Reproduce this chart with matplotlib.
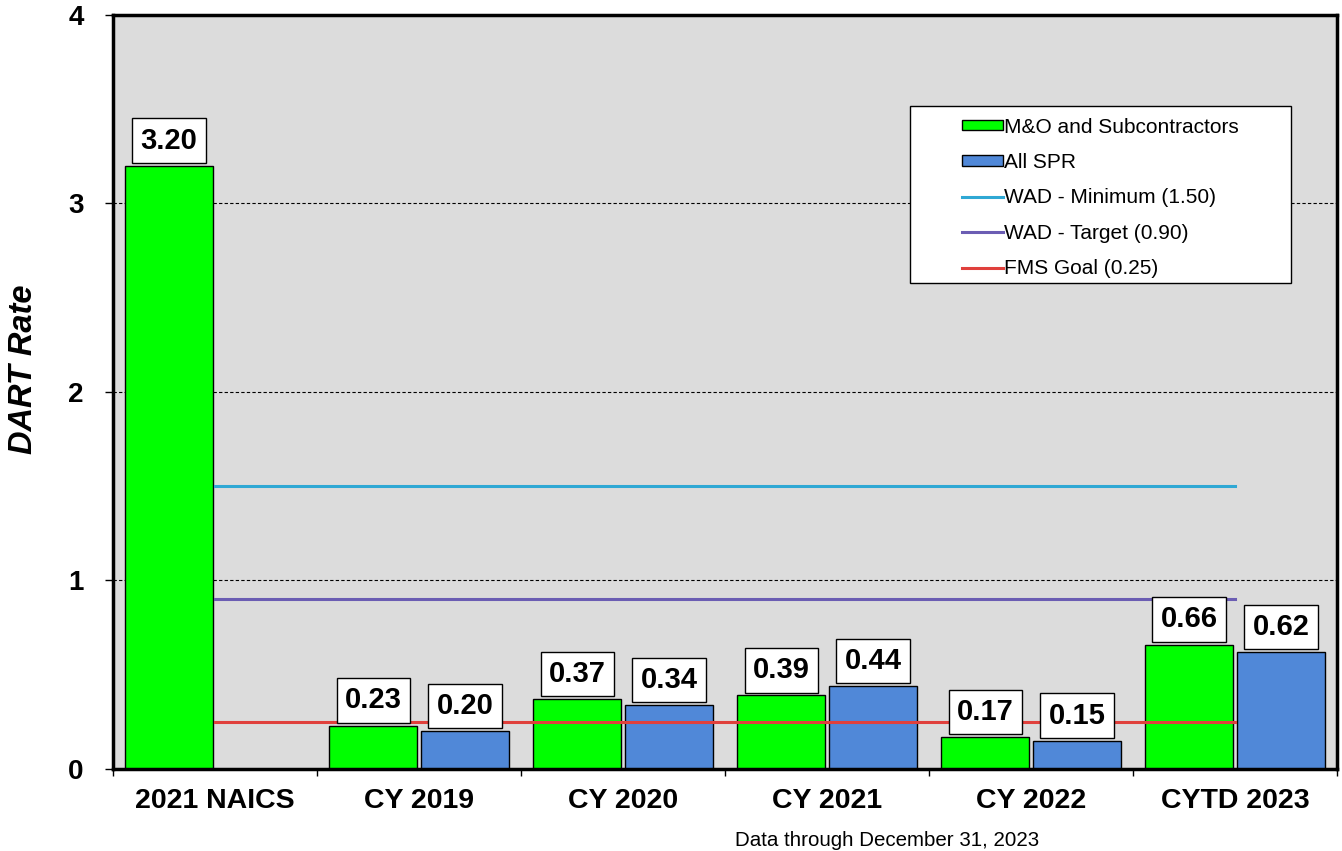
import matplotlib
matplotlib.use("Agg")
import matplotlib.pyplot as plt
from matplotlib.patches import Rectangle, Patch
from matplotlib.lines import Line2D

plt.rcParams["font.family"] = ["Liberation Sans", "DejaVu Sans"]

categories = ["2021 NAICS", "CY 2019", "CY 2020", "CY 2021", "CY 2022", "CYTD 2023"]
mo_subcontractors = [3.20, 0.23, 0.37, 0.39, 0.17, 0.66]
all_spr = [None, 0.20, 0.34, 0.44, 0.15, 0.62]
wad_minimum = 1.50
wad_target = 0.90
fms_goal = 0.25

green = "#00ff00"
blue = "#5088d8"
cyan = "#2fa8d4"
purple = "#6b5db3"
red = "#e0403c"

fig = plt.figure(figsize=(13.42, 8.51), dpi=100)
ax = fig.add_axes([0.0842, 0.0964, 0.9121, 0.886])
ax.set_facecolor("#dcdcdc")

x = list(range(len(categories)))
width = 0.43
off = 0.225

# dashed grid, bars, then goal lines on top
for yv in (1, 2, 3):
    ax.axhline(yv, color="black", lw=0.8, ls=(0, (3, 2)), zorder=1)

def label(xc, v):
    ax.annotate(f"{v:.2f}", xy=(xc, v), xytext=(0, 8), textcoords="offset points",
                ha="center", va="bottom", fontsize=21, fontweight="bold",
                bbox=dict(boxstyle="square,pad=0.28", fc="white", ec="black", lw=1),
                zorder=6)

for i, v in enumerate(mo_subcontractors):
    ax.bar(i - off, v, width, color=green, edgecolor="black", lw=1, zorder=3)
    label(i - off, v)
for i, v in enumerate(all_spr):
    if v is None:
        continue
    ax.bar(i + off, v, width, color=blue, edgecolor="black", lw=1, zorder=3)
    label(i + off, v)

ax.plot(x, [wad_minimum] * len(x), color=cyan, lw=2.2, zorder=4)
ax.plot(x, [wad_target] * len(x), color=purple, lw=2.2, zorder=4)
ax.plot(x, [fms_goal] * len(x), color=red, lw=2.2, zorder=4)

ax.set_xlim(-0.5, 5.5)
ax.set_ylim(0, 4)
ax.set_yticks([0, 1, 2, 3, 4])
ax.set_yticklabels(["0", "1", "2", "3", "4"], fontsize=20, fontweight="bold")
ax.set_xticks(x)
ax.set_xticklabels(categories, fontsize=20.5, fontweight="bold")
ax.tick_params(axis="x", which="major", length=0, pad=14)
ax.set_xticks([i + 0.5 for i in range(-1, 6)], minor=True)
ax.tick_params(axis="x", which="minor", length=5, width=1, direction="out")
ax.tick_params(axis="y", length=6, width=1, pad=15)
for s in ax.spines.values():
    s.set_linewidth(2.5)
    s.set_color("black")
    s.set_zorder(5)

fig.text(23.5 / 1342, 1 - 369 / 851, "DART Rate", rotation=90, ha="center", va="center",
         fontsize=23.5, fontweight="bold", fontstyle="italic")

# legend box
ax.add_patch(Rectangle((0.651, 0.6446), 0.311, 0.2346, transform=ax.transAxes,
                       fc="white", ec="black", lw=1, zorder=7))
handles = [
    Patch(fc=green, ec="black", lw=1),
    Patch(fc=blue, ec="black", lw=1),
    Line2D([], [], color=cyan, lw=2.2),
    Line2D([], [], color=purple, lw=2.2),
    Line2D([], [], color=red, lw=2.2),
]
labels = ["M&O and Subcontractors", "All SPR", "WAD - Minimum (1.50)",
          "WAD - Target (0.90)", "FMS Goal (0.25)"]
leg = ax.legend(handles, labels, loc="upper left", bbox_to_anchor=(0.6936, 0.864),
                frameon=False, fontsize=15, handlelength=1.97, handleheight=0.42,
                handletextpad=0.05, labelspacing=0.79, borderpad=0, borderaxespad=0)
leg.set_zorder(8)

fig.text(887 / 1342, 11 / 851, "Data through December 31, 2023", ha="center", va="center",
         fontsize=14.8)

fig.savefig("out.png", dpi=100)
